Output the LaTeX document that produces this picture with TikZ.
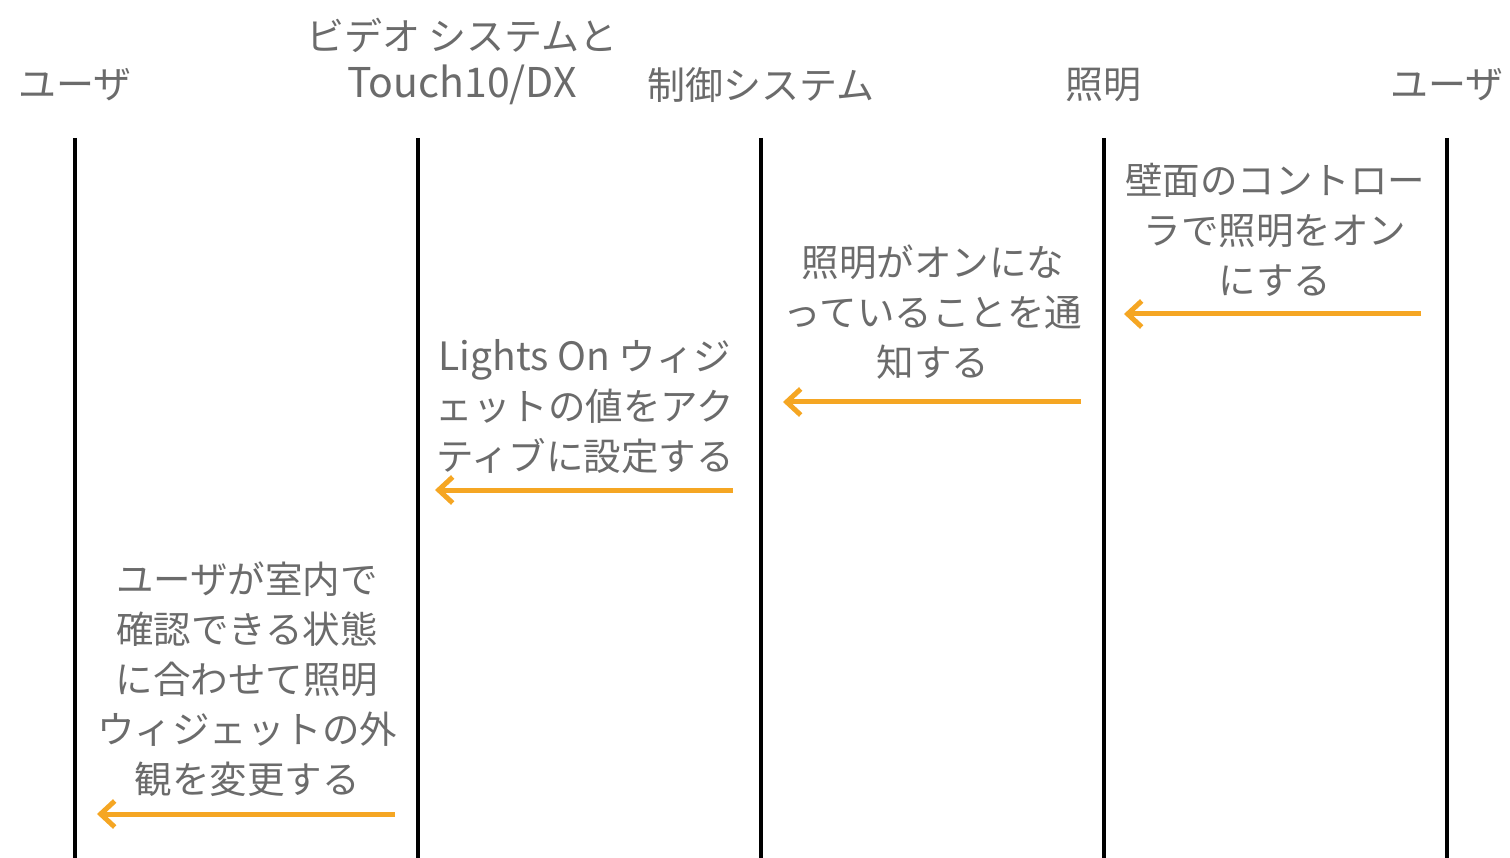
\documentclass[tikz,border=0pt]{standalone}
\usepackage{fontspec}
\setmainfont{Noto Sans CJK JP}
\newfontfamily\jpfont{Noto Sans CJK JP}
\usetikzlibrary{arrows.meta}
\definecolor{txtgray}{HTML}{6B6B6B}
\definecolor{arrorange}{HTML}{F5A623}
\tikzset{
  head/.style={text=txtgray, font=\jpfont\fontsize{38}{50}\selectfont, inner sep=0pt, align=center},
  msg/.style={text=txtgray, font=\jpfont\fontsize{37.5}{50}\selectfont, inner sep=0pt, align=center},
  life/.style={line width=3.5pt, black},
  sig/.style={line width=5pt, arrorange, -{Straight Barb[length=14pt,width=26pt,line width=5pt]}}
}
\begin{document}
\begin{tikzpicture}[x=1pt,y=-1pt]
\useasboundingbox (0,0) rectangle (1510,858);
% headers
\node[head] (h1) at (75,85) {ユーザ};
\node[head] (h2a) at (462,35) {ビデオ システムと};
\node[head] (h2) at (462,85) {\fontsize{41}{50}\selectfont Touch10/DX};
\node[head] (h3) at (761,85) {制御システム};
\node[head] (h4) at (1103,85) {照明};
\node[head] (h5) at (1447,85) {ユーザ};
% lifelines
\foreach \i/\x in {1/75,2/418,3/761,4/1104,5/1447}{
  \coordinate (t\i) at (\x,138);
  \coordinate (b\i) at (\x,858);
  \draw[life] (t\i) -- (b\i);
}
% messages
\node[msg] (m1) at (1275,230) {壁面のコントロー\\ラで照明をオン\\にする};
\node[msg] (m2) at (933,312) {照明がオンにな\\っていることを通\\知する};
\node[msg] (m3) at (585,407) {{\fontsize{39}{50}\selectfont Lights On} ウィジ\\ェットの値をアク\\ティブに設定する};
\node[msg] (m4) at (247,679) {ユーザが室内で\\確認できる状態\\に合わせて照明\\ウィジェットの外\\観を変更する};
% arrows
\coordinate (a1s) at (1421,314); \coordinate (a1e) at (1124,314);
\coordinate (a2s) at (1081,402); \coordinate (a2e) at (783,402);
\coordinate (a3s) at (733,490); \coordinate (a3e) at (435,490);
\coordinate (a4s) at (395,814); \coordinate (a4e) at (97,814);
\draw[sig] (a1s) -- (a1e);
\draw[sig] (a2s) -- (a2e);
\draw[sig] (a3s) -- (a3e);
\draw[sig] (a4s) -- (a4e);
\end{tikzpicture}
\end{document}
